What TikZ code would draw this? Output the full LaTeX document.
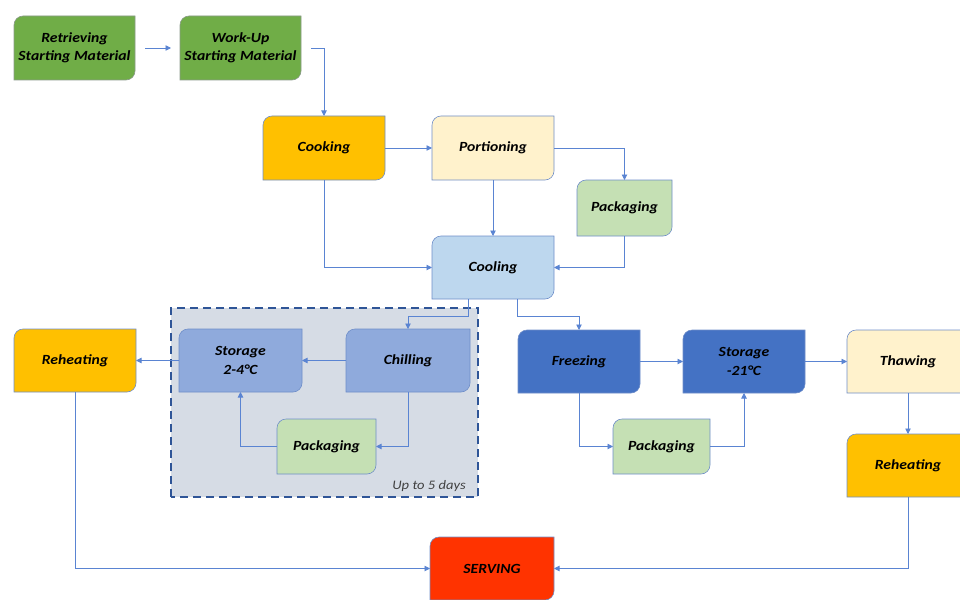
\documentclass[tikz,border=0pt]{standalone}
\usepackage{fontspec}
\setmainfont{Carlito}[FakeStretch=1.12]
\usetikzlibrary{arrows.meta,backgrounds}
\definecolor{cgreen}{HTML}{70AD47}
\definecolor{corange}{HTML}{FFC000}
\definecolor{ccream}{HTML}{FFF2CC}
\definecolor{cpack}{HTML}{C5E0B4}
\definecolor{ccool}{HTML}{BDD7EE}
\definecolor{cmid}{HTML}{8FAADC}
\definecolor{cdark}{HTML}{4472C4}
\definecolor{cred}{HTML}{FF3300}
\definecolor{cgroup}{HTML}{D6DCE5}
\definecolor{cgroupline}{HTML}{2F5597}
\definecolor{cline}{HTML}{5A84D2}
\definecolor{cborder}{HTML}{6F8EC9}
\definecolor{cgborder}{HTML}{8A9A8A}
\newcommand\boxshape[3]{%
  \path[fill=#2,draw=#3,line width=0.6pt] (#1.south west) -- ([yshift=-9pt]#1.north west)
    arc[start angle=180,end angle=90,radius=9pt] -- (#1.north east)
    -- ([yshift=9pt]#1.south east) arc[start angle=0,end angle=-90,radius=9pt] -- cycle;}
\begin{document}
\begin{tikzpicture}[x=1pt,y=1pt,
  procbox/.style={inner sep=2pt,outer sep=0pt,align=center,
    font=\fontsize{14}{18.5}\selectfont\bfseries\itshape,text=black},
  conn/.style={draw=cline,line width=0.9pt,-{Triangle[length=5.5pt,width=5.5pt]}}]
\useasboundingbox (0,0) rectangle (960,-599);
% group box
\node[inner sep=0pt,outer sep=0pt,minimum width=307pt,minimum height=189pt] (grp) at (324.5,-402.5) {};
\node[anchor=base east,inner sep=0pt,font=\fontsize{13}{15}\selectfont\itshape,text=black!75] (lbl) at (466,-489) {Up to 5 days};
% process nodes
\node[procbox,minimum width=121pt,minimum height=64pt] (ret) at (74.5,-48) {Retrieving\\Starting Material};
\node[procbox,minimum width=121pt,minimum height=64pt] (work) at (240.5,-48) {Work-Up\\Starting Material};
\node[procbox,minimum width=122pt,minimum height=64pt] (cook) at (324,-148) {Cooking};
\node[procbox,minimum width=122pt,minimum height=64pt] (port) at (493,-148) {Portioning};
\node[procbox,minimum width=95pt,minimum height=56pt] (packa) at (624.5,-208) {Packaging};
\node[procbox,minimum width=122pt,minimum height=63pt] (cool) at (493,-267.5) {Cooling};
\node[procbox,minimum width=122pt,minimum height=63pt] (reha) at (75,-360.5) {Reheating};
\node[procbox,minimum width=123pt,minimum height=63pt] (stoa) at (240.5,-360.5) {Storage\\2-4°C};
\node[procbox,minimum width=124pt,minimum height=63pt] (chill) at (408,-360.5) {Chilling};
\node[procbox,minimum width=99pt,minimum height=55pt] (packb) at (326.5,-446.5) {Packaging};
\node[procbox,minimum width=122pt,minimum height=63pt] (freeze) at (579,-361.5) {Freezing};
\node[procbox,minimum width=122pt,minimum height=63pt] (stob) at (744,-361.5) {Storage\\-21°C};
\node[procbox,minimum width=97pt,minimum height=55pt] (packc) at (661.5,-446.5) {Packaging};
\node[procbox,minimum width=122pt,minimum height=63pt] (thaw) at (908,-361.5) {Thawing};
\node[procbox,minimum width=122pt,minimum height=63pt] (rehb) at (908,-465.5) {Reheating};
\node[procbox,minimum width=124pt,minimum height=63pt] (serv) at (492,-568.5) {SERVING};
\begin{scope}[on background layer]
  \path[fill=cgroup,draw=cgroupline,line width=2.6pt,dash pattern=on 8pt off 5pt] (grp.south west) rectangle (grp.north east);
  \boxshape{ret}{cgreen}{cgborder}
  \boxshape{work}{cgreen}{cgborder}
  \boxshape{cook}{corange}{cborder}
  \boxshape{port}{ccream}{cborder}
  \boxshape{packa}{cpack}{cborder}
  \boxshape{cool}{ccool}{cborder}
  \boxshape{reha}{corange}{cborder}
  \boxshape{stoa}{cmid}{cborder}
  \boxshape{chill}{cmid}{cborder}
  \boxshape{packb}{cpack}{cborder}
  \boxshape{freeze}{cdark}{cborder}
  \boxshape{stob}{cdark}{cborder}
  \boxshape{packc}{cpack}{cborder}
  \boxshape{thaw}{ccream}{cborder}
  \boxshape{rehb}{corange}{cborder}
  \boxshape{serv}{cred}{cborder}
\end{scope}
% connectors
\draw[conn,shorten <=10pt,shorten >=9pt] (ret.east) -- (work.west);
\draw[conn,shorten <=10pt] (work.east) -| (cook.north);
\draw[conn] (cook.east) -- (port.west);
\draw[conn] (port.east) -| (packa.north);
\draw[conn] (port.south) -- (cool.north);
\draw[conn] (cook.south) |- (cool.west);
\draw[conn] (packa.south) |- (cool.east);
\draw[conn] ([xshift=-25pt]cool.south) -- ++(0,-17) -| (chill.north);
\draw[conn] ([xshift=24pt]cool.south) -- ++(0,-17) -| (freeze.north);
\draw[conn] (chill.west) -- (stoa.east);
\draw[conn] (chill.south) |- (packb.east);
\draw[conn] (packb.west) -| (stoa.south);
\draw[conn] (stoa.west) -- (reha.east);
\draw[conn] (reha.south) |- (serv.west);
\draw[conn] (freeze.east) -- (stob.west);
\draw[conn] (freeze.south) |- (packc.west);
\draw[conn] (packc.east) -| (stob.south);
\draw[conn] (stob.east) -- (thaw.west);
\draw[conn] (thaw.south) -- (rehb.north);
\draw[conn] (rehb.south) |- (serv.east);
\end{tikzpicture}
\end{document}
